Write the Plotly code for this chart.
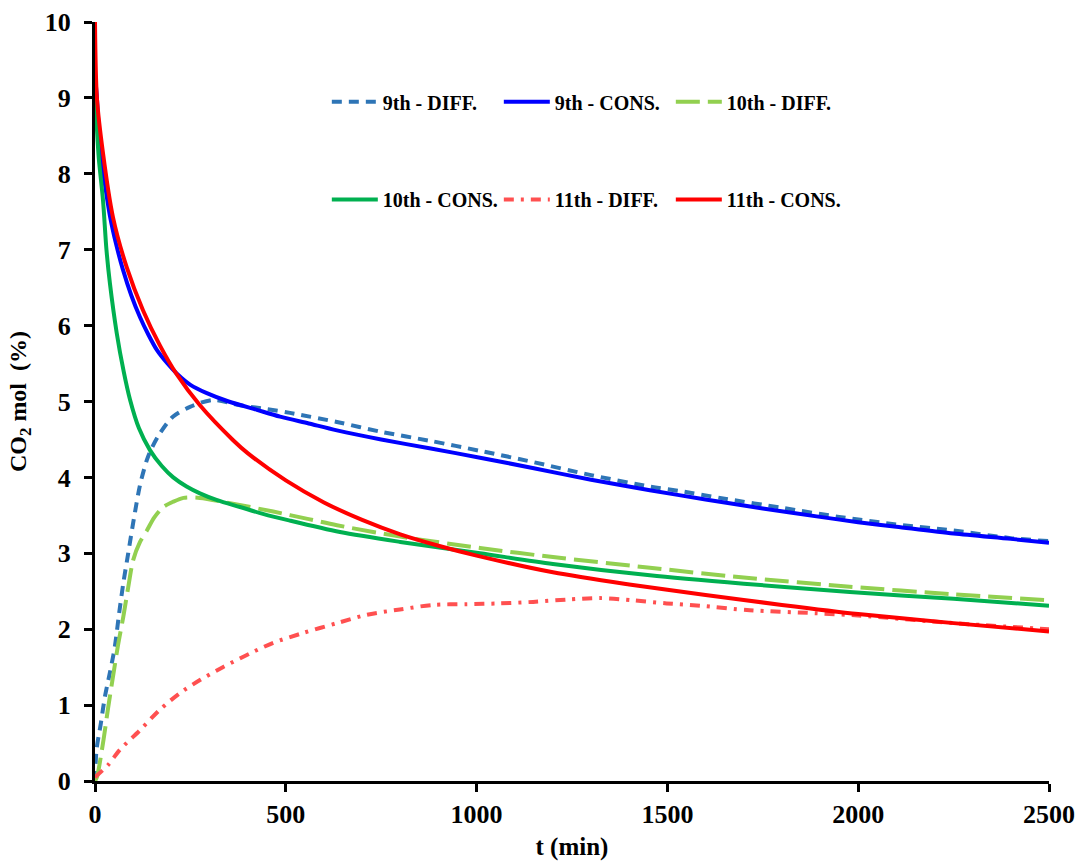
import plotly.graph_objects as go

# Time axis (min) and CO2 mole fraction (%) for each run
t_9_diff = [0, 4, 15, 26, 40, 52, 63, 74, 87, 100, 118, 136, 150, 170, 204, 249, 309, 380, 450, 511,
            634, 750, 880, 1009, 1150, 1300, 1454, 1533, 1650, 1800, 1950, 2100, 2250, 2400, 2500]
co2_9_diff = [0, 0.41, 0.75, 1.11, 1.45, 1.77, 2.2, 2.6, 3.0, 3.4, 3.9, 4.23, 4.40, 4.58, 4.80, 4.93, 5.02,
              4.95, 4.90, 4.85, 4.73, 4.60, 4.48, 4.35, 4.20, 4.03, 3.88, 3.82, 3.72, 3.60, 3.48, 3.38,
              3.30, 3.20, 3.16]

t_9_cons = [0, 5, 13, 25, 39, 55, 73, 95, 118, 140, 162, 190, 214, 250, 293, 350, 424, 485, 560, 634,
            750, 880, 1009, 1150, 1300, 1454, 1600, 1750, 1900, 2000, 2100, 2250, 2400, 2500]
co2_9_cons = [9.3, 9.0, 8.35, 7.9, 7.45, 7.08, 6.74, 6.40, 6.11, 5.88, 5.68, 5.5, 5.37, 5.22, 5.11, 5.0,
              4.89, 4.80, 4.71, 4.62, 4.50, 4.38, 4.26, 4.12, 3.97, 3.83, 3.71, 3.59, 3.48, 3.41, 3.35,
              3.26, 3.19, 3.14]

t_10_diff = [0, 5, 21, 34, 47, 60, 74, 87, 100, 118, 136, 155, 179, 205, 232, 275, 354, 467, 560, 634,
             800, 1009, 1200, 1454, 1700, 1978, 2250, 2500]
co2_10_diff = [0, 0.05, 0.5, 0.95, 1.37, 1.78, 2.16, 2.55, 2.91, 3.15, 3.30, 3.47, 3.61, 3.68, 3.73, 3.73,
               3.66, 3.55, 3.45, 3.37, 3.22, 3.07, 2.95, 2.81, 2.68, 2.56, 2.46, 2.38]

t_10_cons = [0, 5, 10, 21, 30, 39, 57, 75, 92, 115, 144, 175, 205, 240, 275, 320, 380, 440, 511, 642,
             800, 1009, 1200, 1454, 1700, 1978, 2250, 2500]
co2_10_cons = [9.1, 8.6, 8.2, 7.65, 7.0, 6.56, 5.9, 5.4, 5.02, 4.65, 4.36, 4.15, 4.0, 3.88, 3.79, 3.70,
               3.61, 3.52, 3.43, 3.28, 3.15, 3.0, 2.86, 2.71, 2.60, 2.49, 2.40, 2.31]

t_11_diff = [0, 34, 65, 118, 170, 223, 275, 335, 406, 467, 545, 634, 712, 799, 886, 974, 1061, 1148,
             1236, 1323, 1411, 1498, 1585, 1716, 1891, 2000, 2250, 2500]
co2_11_diff = [0.05, 0.21, 0.41, 0.67, 0.94, 1.16, 1.33, 1.50, 1.68, 1.82, 1.95, 2.08, 2.19, 2.26, 2.32,
               2.33, 2.34, 2.36, 2.39, 2.41, 2.38, 2.34, 2.31, 2.25, 2.21, 2.18, 2.08, 2.00]

t_11_cons = [0, 5, 21, 47, 83, 126, 170, 214, 275, 362, 400, 500, 600, 700, 800, 900, 1000, 1200, 1400,
             1600, 1800, 2000, 2250, 2500]
co2_11_cons = [10, 9.0, 8.27, 7.43, 6.77, 6.20, 5.74, 5.36, 4.95, 4.49, 4.32, 3.96, 3.67, 3.44, 3.25,
               3.10, 2.97, 2.75, 2.59, 2.45, 2.32, 2.20, 2.08, 1.97]

x_ticks = [0, 500, 1000, 1500, 2000, 2500]
y_ticks = list(range(0, 11))

series = [
    ("9th - DIFF.", t_9_diff, co2_9_diff, "#2E75B6", "10px,7px", "legend"),
    ("9th - CONS.", t_9_cons, co2_9_cons, "#0000FF", "solid", "legend"),
    ("10th - DIFF.", t_10_diff, co2_10_diff, "#92D050", "24px,8px", "legend"),
    ("10th - CONS.", t_10_cons, co2_10_cons, "#00B050", "solid", "legend2"),
    ("11th - DIFF.", t_11_diff, co2_11_diff, "#FF5050", "10px,7px,3px,7px", "legend2"),
    ("11th - CONS.", t_11_cons, co2_11_cons, "#FF0000", "solid", "legend2"),
]

FONT = "Liberation Serif"

fig = go.Figure()
for name, t, v, color, dash, leg in series:
    fig.add_trace(go.Scatter(
        x=t, y=v, name=name, mode="lines", legend=leg,
        line=dict(color=color, width=4, dash=dash, shape="spline", smoothing=0.8),
    ))

legend_common = dict(
    orientation="h", xanchor="left", yanchor="middle",
    entrywidth=111, entrywidthmode="pixels", itemwidth=46,
    font=dict(family=FONT, size=20, color="black", weight="bold"),
    bgcolor="rgba(0,0,0,0)", borderwidth=0, traceorder="normal",
)

fig.update_layout(
    width=1081, height=865,
    margin=dict(l=95, r=32, t=22, b=84),
    paper_bgcolor="white", plot_bgcolor="white",
    font=dict(family=FONT, color="black"),
    legend=dict(x=0.243, y=0.895, **legend_common),
    legend2=dict(x=0.243, y=0.766, **legend_common),
    xaxis=dict(
        range=[0, 2500], tickvals=x_ticks, showgrid=False, zeroline=False,
        showline=True, linecolor="black", linewidth=3,
        ticks="outside", ticklen=8, tickwidth=3, tickcolor="black",
        ticklabelstandoff=0,
        tickfont=dict(family=FONT, size=26, color="black", weight="bold"),
        title=dict(text="t (min)", standoff=10,
                   font=dict(family=FONT, size=25, color="black", weight="bold")),
        automargin=False,
    ),
    yaxis=dict(
        range=[0, 10], tickvals=y_ticks, showgrid=False, zeroline=False,
        showline=True, linecolor="black", linewidth=3,
        ticks="outside", ticklen=8, tickwidth=3, tickcolor="black",
        ticklabelstandoff=8,
        tickfont=dict(family=FONT, size=26, color="black", weight="bold"),
        title=dict(text="CO<sub>2</sub> mol\u00a0 (%)", standoff=12,
                   font=dict(family=FONT, size=24, color="black", weight="bold")),
        automargin=False,
    ),
)

fig.write_html("out.html")
